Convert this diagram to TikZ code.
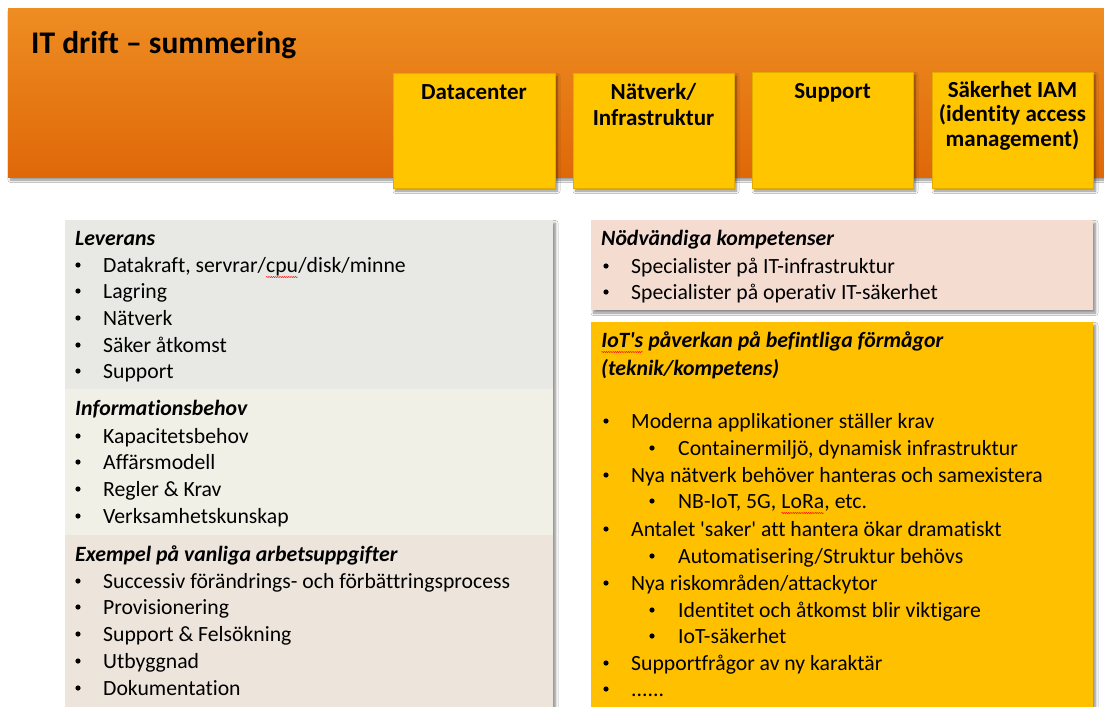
\documentclass[tikz,border=0pt]{standalone}
\usepackage{fontspec}
\setmainfont{Carlito}[Ligatures={NoCommon}]
\usetikzlibrary{shadows.blur,decorations.pathmorphing}

\definecolor{bannertop}{HTML}{EE8D22}
\definecolor{bannerbot}{HTML}{DF6808}
\definecolor{boxyellow}{HTML}{FFC600}
\definecolor{boxedge}{HTML}{E3AA00}
\definecolor{levbg}{HTML}{E8E9E4}
\definecolor{infobg}{HTML}{F1F0E6}
\definecolor{exbg}{HTML}{EDE4DC}
\definecolor{kompbg}{HTML}{F4DCD1}
\definecolor{iotbg}{HTML}{FFC000}

% red wavy spell-check underline under a word
\newcommand\spellmark[1]{\tikz[baseline=(spw.base)]{\node[inner sep=0pt,outer sep=0pt](spw){#1};\draw[red,line width=0.45pt,decorate,decoration={snake,amplitude=0.55pt,segment length=2.2pt}]([yshift=-5pt]spw.base west)--([yshift=-5pt]spw.base east);}}
\newcommand\sq{\textquotesingle}

\tikzset{
  shadowed/.style={blur shadow={shadow xshift=2.5pt, shadow yshift=-3pt, shadow blur steps=6, shadow opacity=45, shadow blur radius=2.5pt}},
  titletext/.style={anchor=base west, inner sep=0pt, font=\fontsize{31.5}{36}\selectfont\bfseries},
  cat/.style={anchor=base, inner sep=0pt, font=\fontsize{23}{27}\selectfont\bfseries},
  head/.style={anchor=base west, inner sep=0pt, font=\fontsize{21.8}{26}\selectfont\bfseries\itshape},
  item/.style={anchor=base west, inner sep=0pt, font=\fontsize{21.7}{26}\selectfont},
  dot/.style={circle, fill=black, inner sep=0pt, minimum size=5.2pt},
}

% bulleted line: name, bullet x, text x, baseline, text
\newcommand\bitem[5]{%
  \node[dot] (#1b) at (#2,#4-7) {};
  \node[item] (#1) at (#3,#4) {#5};
}

\begin{document}
\begin{tikzpicture}[x=1pt,y=-1pt]
\useasboundingbox (0,0) rectangle (1104,707);
\fill[white] (0,0) rectangle (1104,707);

% banner
\path[shadowed, top color=bannertop, bottom color=bannerbot] (8,8) rectangle (1112,177);
\node[titletext] (title) at (31,53) {IT drift – summering};

% area boxes
\path[shadowed, fill=boxyellow, draw=boxedge, line width=0.6pt] (393,73) rectangle (555,188);
\path[shadowed, fill=boxyellow, draw=boxedge, line width=0.6pt] (573,73) rectangle (734,188);
\path[shadowed, fill=boxyellow, draw=boxedge, line width=0.6pt] (752,72) rectangle (913,188);
\path[shadowed, fill=boxyellow, draw=boxedge, line width=0.6pt] (932,72) rectangle (1093,188);
\node[cat] (dc)  at (474,99)  {Datacenter};
\node[cat] (nv1) at (653.5,99)  {Nätverk/};
\node[cat] (nv2) at (653.5,125) {Infrastruktur};
\node[cat] (sp)  at (832.5,98)  {Support};
\node[cat] (sk1) at (1012.5,97)  {Säkerhet IAM};
\node[cat] (sk2) at (1012.5,121) {(identity access};
\node[cat] (sk3) at (1012.5,146) {management)};

% left column
\path[shadowed, fill=levbg] (65,220) rectangle (553,712);
\fill[infobg] (65,389) rectangle (553,535);
\fill[exbg] (65,535) rectangle (553,712);

\node[head] (lev) at (75,245) {Leverans};
\bitem{l1}{78}{103}{272}{Datakraft, servrar/\spellmark{cpu}/disk/minne}
\bitem{l2}{78}{103}{298}{Lagring}
\bitem{l3}{78}{103}{325}{Nätverk}
\bitem{l4}{78}{103}{352}{Säker åtkomst}
\bitem{l5}{78}{103}{378}{Support}

\node[head] (info) at (75,415) {Informationsbehov};
\bitem{i1}{78}{103}{443}{Kapacitetsbehov}
\bitem{i2}{78}{103}{469}{Affärsmodell}
\bitem{i3}{78}{103}{496}{Regler \& Krav}
\bitem{i4}{78}{103}{523}{Verksamhetskunskap}

\node[head] (ex) at (75,561) {Exempel på vanliga arbetsuppgifter};
\bitem{e1}{78}{103}{588}{Successiv förändrings- och förbättringsprocess}
\bitem{e2}{78}{103}{614}{Provisionering}
\bitem{e3}{78}{103}{641}{Support \& Felsökning}
\bitem{e4}{78}{103}{668}{Utbyggnad}
\bitem{e5}{78}{103}{695}{Dokumentation}

% right column
\path[shadowed, fill=kompbg] (591,220) rectangle (1093,310);
\node[head] (komp) at (601,245) {Nödvändiga kompetenser};
\bitem{k1}{606}{631}{273}{Specialister på IT-infrastruktur}
\bitem{k2}{606}{631}{299}{Specialister på operativ IT-säkerhet}

\path[shadowed, fill=iotbg] (591,322) rectangle (1093,712);
\node[head] (iot1) at (601,347) {\spellmark{IoT\sq s} påverkan på befintliga förmågor};
\node[head] (iot2) at (601,375) {(teknik/kompetens)};
\bitem{p1}{606}{631}{428}{Moderna applikationer ställer krav}
\bitem{p1a}{652}{678}{455}{Containermiljö, dynamisk infrastruktur}
\bitem{p2}{606}{631}{482}{Nya nätverk behöver hanteras och samexistera}
\bitem{p2a}{652}{678}{508}{NB-IoT, 5G, \spellmark{LoRa}, etc.}
\bitem{p3}{606}{631}{536}{Antalet \sq saker\sq{} att hantera ökar dramatiskt}
\bitem{p3a}{652}{678}{563}{Automatisering/Struktur behövs}
\bitem{p4}{606}{631}{590}{Nya riskområden/attackytor}
\bitem{p4a}{652}{678}{617}{Identitet och åtkomst blir viktigare}
\bitem{p4b}{652}{678}{643}{IoT-säkerhet}
\bitem{p5}{606}{631}{670}{Supportfrågor av ny karaktär}
\bitem{p6}{606}{631}{696}{......}
\end{tikzpicture}
\end{document}
